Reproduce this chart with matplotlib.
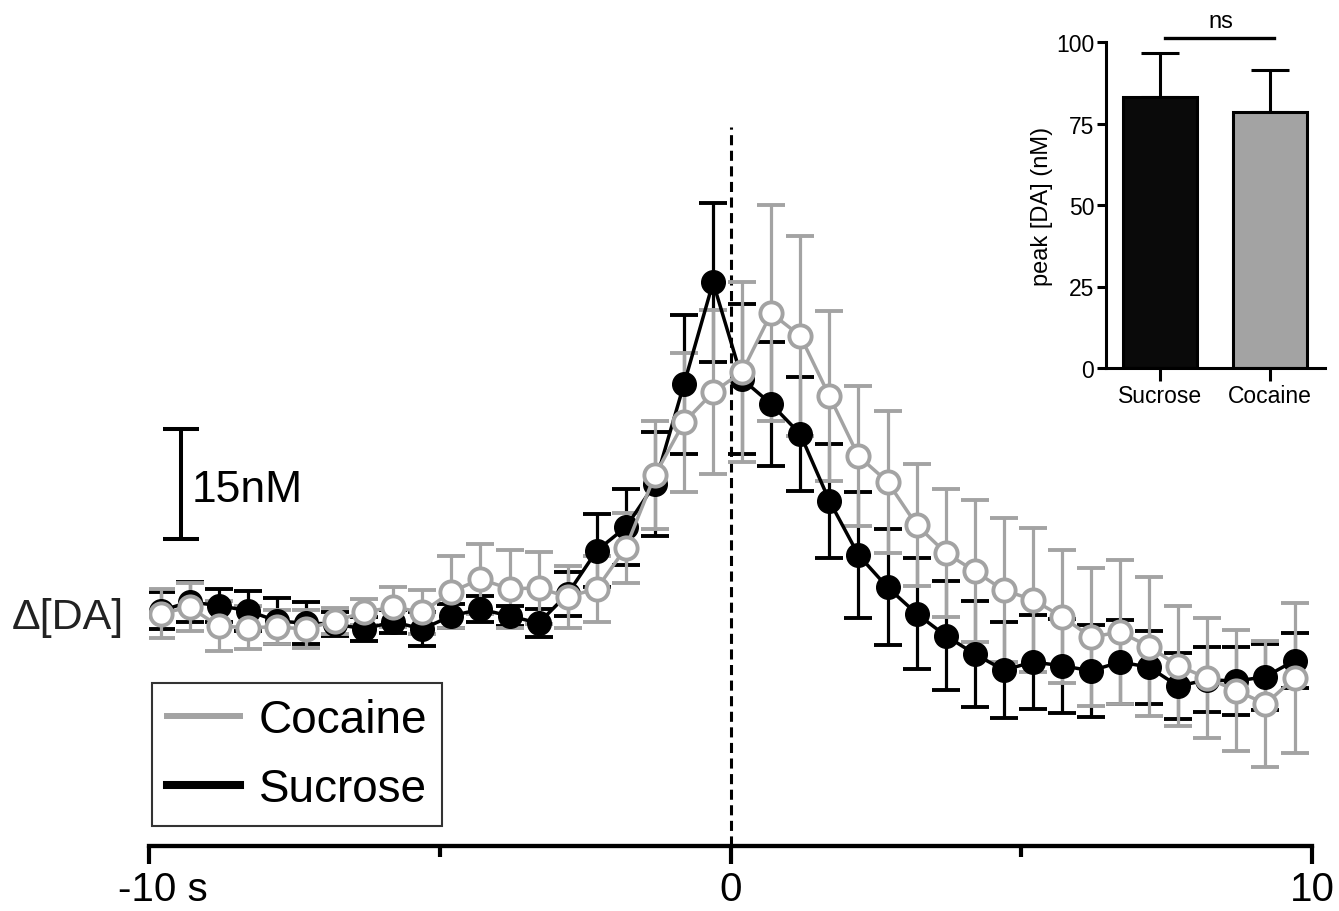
import numpy as np
import matplotlib.pyplot as plt
from matplotlib.lines import Line2D
from matplotlib.transforms import offset_copy

plt.rcParams['font.family'] = ['Liberation Sans', 'DejaVu Sans']

# time bins around the lever press (s), one bin every 0.5 s
time = np.arange(-9.8, 9.75, 0.5)

# change in [DA] (nM), mean and SEM
cocaine = [1.4, 2.3, -0.3, -0.5, -0.4, -0.7, 0.4, 1.6, 2.3, 1.6,
           4.4, 6.1, 4.8, 4.9, 3.7, 4.8, 10.4, 20.3, 27.5, 31.6,
           34.4, 42.4, 39.3, 31.1, 22.9, 19.4, 13.5, 9.7, 7.2, 4.6,
           3.3, 1.0, -1.8, -1.1, -3.1, -5.7, -7.4, -9.1, -10.9, -7.4]
cocaine_sem = [3.3, 3.3, 3.4, 2.9, 2.3, 2.6, 1.8, 1.8, 2.7, 3.0,
               4.9, 4.8, 5.3, 4.9, 4.2, 4.5, 4.8, 7.4, 9.5, 11.2,
               12.3, 14.7, 13.6, 11.6, 9.5, 9.7, 8.3, 8.7, 9.7, 9.8,
               9.8, 9.1, 9.4, 9.8, 9.5, 8.2, 8.2, 8.3, 8.6, 10.2]
sucrose = [1.8, 3.0, 2.5, 1.8, 0.4, 0.1, 0.0, -0.7, 0.3, -0.7,
           1.1, 2.0, 1.1, 0.1, 4.1, 10.0, 13.2, 19.1, 32.7, 46.6,
           33.4, 30.0, 25.9, 16.8, 9.4, 5.0, 1.4, -1.6, -4.1, -6.3,
           -5.2, -5.7, -6.4, -5.2, -5.9, -8.5, -7.6, -7.8, -7.2, -5.0]
sucrose_sem = [2.5, 2.7, 2.2, 2.7, 3.1, 2.9, 1.6, 1.6, 1.6, 2.3,
               1.6, 1.8, 1.4, 1.9, 3.0, 5.0, 5.2, 7.1, 9.5, 10.8,
               10.2, 8.5, 7.8, 7.8, 8.6, 7.9, 7.6, 7.4, 7.2, 6.5,
               6.4, 6.4, 6.3, 5.7, 5.0, 4.5, 4.4, 4.6, 4.5, 3.7]

# inset: peak [DA]
groups = ['Sucrose', 'Cocaine']
peak = [83.1, 78.5]
peak_sem = [13.5, 12.9]

GRAY = '#a3a3a3'
W, H = 1339, 912

fig = plt.figure(figsize=(W / 100, H / 100), dpi=100)
ax = fig.add_axes([149 / W, 1 - 847 / H, (1312 - 149) / W, (847 - 128) / H])

ax.axvline(0, color='k', lw=2.2, dashes=(3.3, 1.8), zorder=1)

ax.errorbar(time, sucrose, yerr=sucrose_sem, fmt='none', ecolor='k',
            elinewidth=2.3, capsize=10, capthick=2.8, zorder=2)
ax.errorbar(time, cocaine, yerr=cocaine_sem, fmt='none', ecolor=GRAY,
            elinewidth=2.3, capsize=10, capthick=2.8, zorder=3)
ax.plot(time, sucrose, '-o', color='k', lw=2.5, ms=17, zorder=4)
ax.plot(time, cocaine, '-o', color=GRAY, lw=2.5, ms=16, mfc='white',
        mec=GRAY, mew=2.8, zorder=5)

ax.set_xlim(-10, 10)
ax.set_ylim(-30.3, 67.8)

# 15 nM scale bar
ax.errorbar([-9.45], [19.15], yerr=[7.5], fmt='none', ecolor='k',
            elinewidth=2.9, capsize=13, capthick=2.9, clip_on=False)
ax.text(-9.27, 18.4, '15nM', fontsize=32, va='center', ha='left')

for s in ['left', 'top', 'right']:
    ax.spines[s].set_visible(False)
ax.spines['bottom'].set_linewidth(3.1)
ax.yaxis.set_visible(False)
ax.set_xticks([-10, 0, 10])
ax.set_xticklabels(['', '0', '10'])
ax.set_xticks([-5, 5], minor=True)
ax.tick_params(axis='x', which='major', length=13, width=3, pad=4,
               labelsize=29)
ax.tick_params(axis='x', which='minor', length=8, width=3)
ax.text(-10, 0, '-10 s', fontsize=29, ha='left', va='top',
        transform=offset_copy(ax.get_xaxis_transform(), fig=fig,
                              x=-31, y=-24, units='dots'))

fig.text(12 / W, 1 - 618 / H, 'Δ[DA]', fontsize=31, va='center',
         ha='left', color='#222222')

handles = [Line2D([], [], color=GRAY, lw=4.3),
           Line2D([], [], color='k', lw=5.8)]
leg = ax.legend(handles, ['Cocaine', 'Sucrose'], fontsize=33,
                loc='upper left', bbox_to_anchor=(152 / W, 1 - 684 / H),
                bbox_transform=fig.transFigure, borderaxespad=0,
                frameon=True, fancybox=False, edgecolor='k',
                handlelength=1.6, handletextpad=0.4, labelspacing=0.55,
                borderpad=0.33)
leg.get_frame().set_linewidth(1.5)

# inset bar chart
ax2 = fig.add_axes([1106 / W, 1 - 369 / H, (1325 - 1106) / W, (369 - 43) / H])
pos = np.arange(len(groups))
ax2.errorbar(pos, peak, yerr=[[0, 0], peak_sem], fmt='none', ecolor='k',
             elinewidth=2.2, capsize=13.5, capthick=2.2, zorder=1)
ax2.bar(pos, peak, width=0.68, color=['#0a0a0a', GRAY], edgecolor='k',
        linewidth=2.2, zorder=2)
ax2.set_xlim(-0.49, 1.5)
ax2.set_ylim(0, 100)
ax2.set_yticks([0, 25, 50, 75, 100])
ax2.set_xticks(pos)
ax2.set_xticklabels(groups)
for s in ['top', 'right']:
    ax2.spines[s].set_visible(False)
for s in ['left', 'bottom']:
    ax2.spines[s].set_linewidth(2.2)
ax2.tick_params(length=6.5, width=2.2, labelsize=16.5, pad=2)
ax2.tick_params(axis='x', length=9.4)
ax2.set_ylabel('peak [DA] (nM)', fontsize=17, labelpad=2)

ax2.plot([0.05, 1.04], [101.2, 101.2], color='k', lw=2.4, clip_on=False)
ax2.text(0.55, 103, 'ns', fontsize=17, ha='center', va='bottom')

fig.savefig('out.png', dpi=100)
